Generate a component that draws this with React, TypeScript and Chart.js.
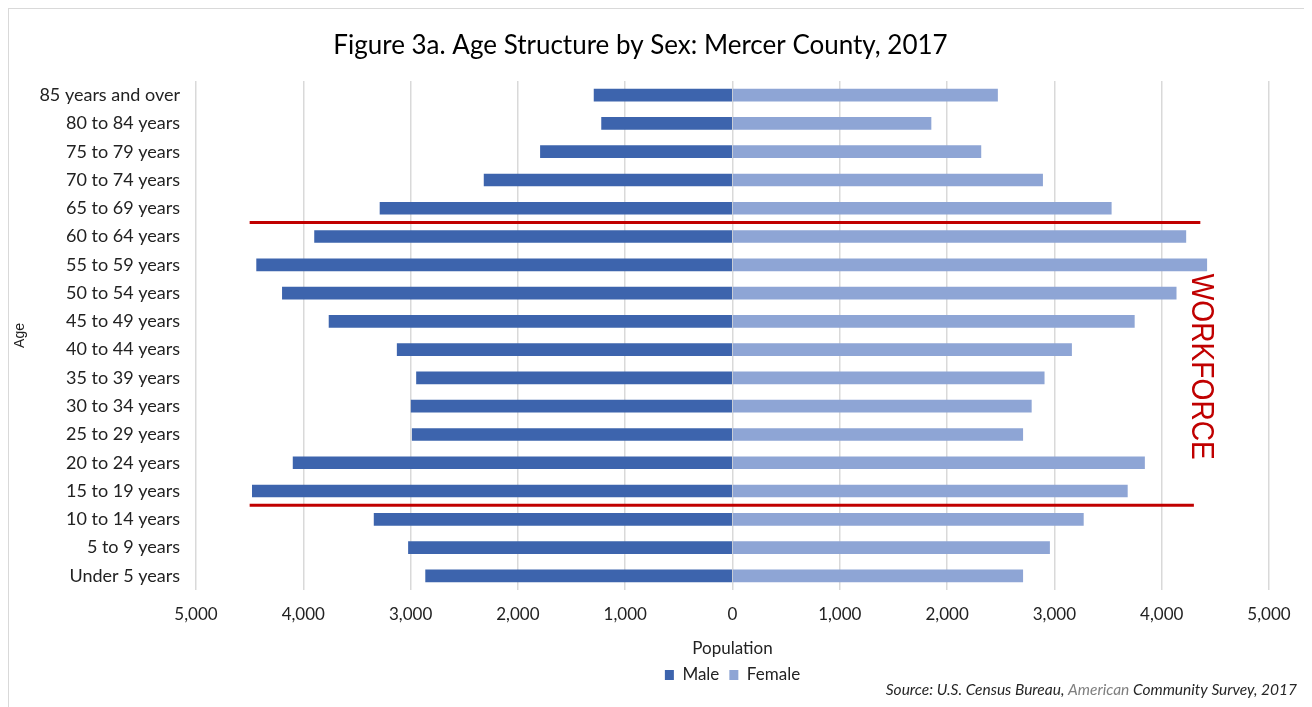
import React, { useEffect, useRef } from "react";
import { Chart, registerables } from "chart.js";

Chart.register(...registerables);

const chartTitle = "Figure 3a. Age Structure by Sex: Mercer County, 2017";

const ageGroups = [
  "85 years and over",
  "80 to 84 years",
  "75 to 79 years",
  "70 to 74 years",
  "65 to 69 years",
  "60 to 64 years",
  "55 to 59 years",
  "50 to 54 years",
  "45 to 49 years",
  "40 to 44 years",
  "35 to 39 years",
  "30 to 34 years",
  "25 to 29 years",
  "20 to 24 years",
  "15 to 19 years",
  "10 to 14 years",
  "5 to 9 years",
  "Under 5 years",
];

const maleValues = [
  1290, 1220, 1790, 2315, 3285, 3895, 4435, 4195, 3760, 3125, 2945, 2995, 2985,
  4095, 4475, 3340, 3020, 2860,
];

const femaleValues = [
  2470, 1850, 2315, 2890, 3530, 4225, 4420, 4135, 3745, 3160, 2905, 2785, 2705,
  3840, 3680, 3270, 2955, 2705,
];

const xTickValues = [-5000, -4000, -3000, -2000, -1000, 0, 1000, 2000, 3000, 4000, 5000];

// Workforce band annotation: each red line sits between two age groups
const workforceEdgeUpper = ["65 to 69 years", "60 to 64 years"];
const workforceEdgeLower = ["15 to 19 years", "10 to 14 years"];
const workforceLineStarts = [-4500, -4500];
const workforceLineEnds = [4360, 4300];
const workforceLabel = "WORKFORCE";
const workforceLabelValue = 4362;

const sourceParts = ["Source: U.S. Census Bureau, ", "American", " Community Survey, 2017"];
const sourceColors = ["#262626", "#7f7f7f", "#262626"];

const TEXT = "#222222";
const FONT = "Lato, 'Liberation Sans', sans-serif";

const annotationPlugin = {
  id: "workforceAnnotation",
  afterDatasetsDraw(chart: any) {
    const { ctx, scales } = chart;
    const x = scales.x;
    const y = scales.y;
    const edges = [workforceEdgeUpper, workforceEdgeLower];
    const ys: number[] = [];
    ctx.save();
    ctx.strokeStyle = "#C00000";
    ctx.lineWidth = 3;
    edges.forEach((pair, i) => {
      const yy =
        (y.getPixelForValue(ageGroups.indexOf(pair[0])) +
          y.getPixelForValue(ageGroups.indexOf(pair[1]))) /
        2;
      ys.push(yy);
      ctx.beginPath();
      ctx.moveTo(x.getPixelForValue(workforceLineStarts[i]), yy);
      ctx.lineTo(x.getPixelForValue(workforceLineEnds[i]), yy);
      ctx.stroke();
    });
    const cx = x.getPixelForValue(workforceLabelValue);
    const cy = (ys[0] + ys[1]) / 2 + 3;
    ctx.translate(cx, cy);
    ctx.rotate(Math.PI / 2);
    ctx.scale(0.88, 1);
    ctx.font = "32px 'Liberation Sans', Arial, sans-serif";
    ctx.fillStyle = "#C00000";
    ctx.textAlign = "center";
    ctx.textBaseline = "middle";
    ctx.fillText(workforceLabel, 0, 0);
    ctx.restore();
  },
  afterDraw(chart: any) {
    const { ctx } = chart;
    ctx.save();
    ctx.font = "italic 15.5px " + FONT;
    ctx.textBaseline = "middle";
    ctx.textAlign = "left";
    const widths = sourceParts.map((p) => ctx.measureText(p).width);
    const total = widths.reduce((a, b) => a + b, 0);
    let xPos = chart.width - 12 - total;
    const yPos = chart.height - 18;
    sourceParts.forEach((p, i) => {
      ctx.fillStyle = sourceColors[i];
      ctx.fillText(p, xPos, yPos);
      xPos += widths[i];
    });
    ctx.restore();
  },
};

export default function App() {
  const canvasRef = useRef<HTMLCanvasElement | null>(null);

  useEffect(() => {
    if (!canvasRef.current) return;
    const chart = new Chart(canvasRef.current, {
      type: "bar",
      data: {
        labels: ageGroups,
        datasets: [
          {
            label: "Male",
            data: maleValues.map((v) => -v),
            backgroundColor: "#3D64AD",
            borderWidth: 0,
            barThickness: 12,
          },
          {
            label: "Female",
            data: femaleValues,
            backgroundColor: "#8EA5D5",
            borderWidth: 0,
            barThickness: 12,
          },
        ],
      },
      options: {
        indexAxis: "y",
        animation: false,
        responsive: false,
        maintainAspectRatio: false,
        layout: { padding: { left: 3, right: 40, top: 0, bottom: 14.5 } },
        scales: {
          x: {
            type: "linear",
            min: xTickValues[0],
            max: xTickValues[xTickValues.length - 1],
            stacked: true,
            afterBuildTicks: (scale: any) => {
              scale.ticks = xTickValues.map((v) => ({ value: v }));
            },
            ticks: {
              callback: (v: any) => Math.abs(Number(v)).toLocaleString("en-US"),
              font: { family: FONT, size: 17 },
              color: TEXT,
              padding: 14,
              maxRotation: 0,
              autoSkip: false,
            },
            grid: { color: "#d9d9d9", lineWidth: 1.5, drawTicks: false },
            border: { display: false },
            title: {
              display: true,
              text: "Population",
              font: { family: FONT, size: 17 },
              color: TEXT,
              padding: { top: 0, bottom: -2.7 },
            },
            afterFit: (scale: any) => {
              scale.height = 66.5;
            },
          },
          y: {
            stacked: true,
            ticks: {
              font: { family: FONT, size: 18 },
              color: TEXT,
              padding: 16,
              autoSkip: false,
            },
            grid: { display: false, drawTicks: false },
            border: { display: false },
            title: {
              display: true,
              text: "Age",
              font: { family: "'Liberation Sans', Arial, sans-serif", size: 14 },
              color: TEXT,
              padding: 0,
            },
            afterFit: (scale: any) => {
              scale.width = 184;
            },
          },
        },
        plugins: {
          title: {
            display: true,
            text: chartTitle,
            font: { family: FONT, size: 26, weight: "normal" },
            color: "#000000",
            padding: { top: 21.4, bottom: 19.4 },
          },
          legend: {
            position: "bottom",
            fullSize: false,
            labels: {
              font: { family: FONT, size: 17 },
              color: TEXT,
              boxWidth: 9,
              boxHeight: 10,
              padding: 10,
            },
          },
          tooltip: { enabled: false },
        },
      },
      plugins: [annotationPlugin],
    } as any);
    return () => chart.destroy();
  }, []);

  return (
    <div
      style={{
        width: 1302,
        height: 701,
        border: "1px solid #d9d9d9",
        boxSizing: "border-box",
        background: "#ffffff",
      }}
    >
      <canvas ref={canvasRef} width={1300} height={699} style={{ display: "block" }} />
    </div>
  );
}
